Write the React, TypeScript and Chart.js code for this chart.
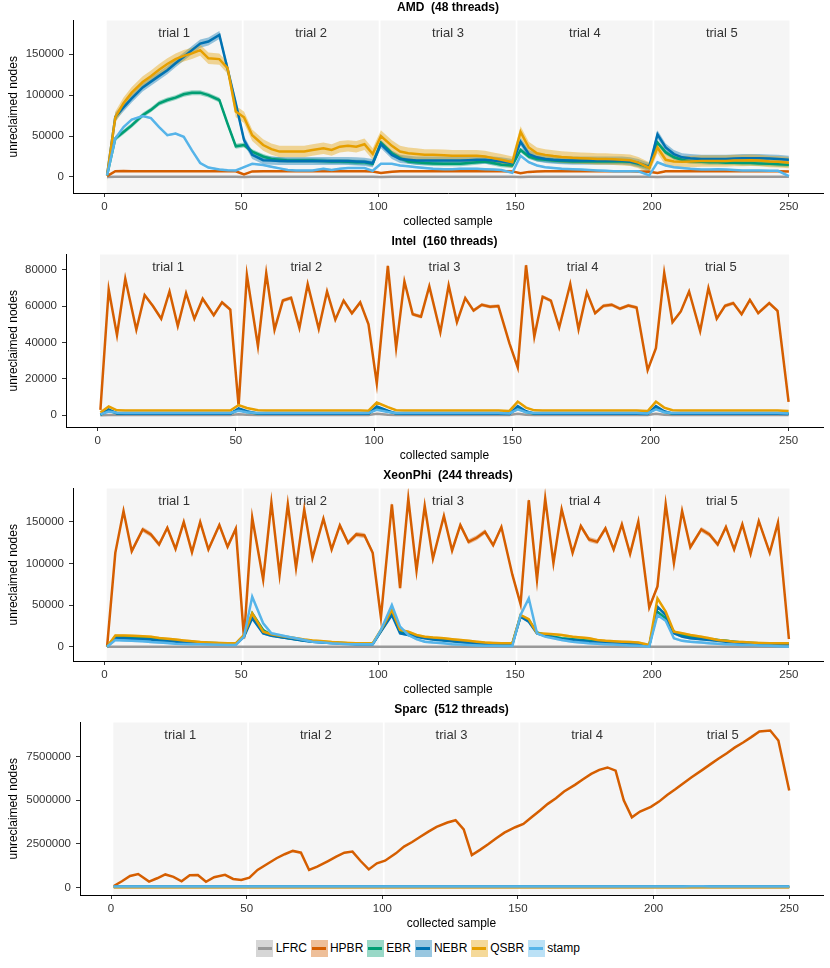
import React, { useEffect, useRef } from 'react'
import Chart from 'chart.js/auto'

const FONT = "'Liberation Sans', Arial, Helvetica, sans-serif"

// sample index of every collected point (16 per trial)
const samples = [
  1, 4, 7, 10, 14, 17, 20, 23, 26, 29, 32, 35, 38, 42, 45, 48,
  51, 54, 58, 61, 64, 67, 70, 73, 76, 80, 83, 86, 89, 92, 95, 98,
  101, 105, 108, 111, 114, 117, 120, 124, 127, 130, 133, 136, 139, 142, 145, 149,
  152, 155, 158, 161, 164, 167, 171, 174, 177, 180, 183, 186, 189, 192, 195, 199,
  202, 205, 208, 211, 214, 218, 221, 224, 227, 230, 233, 236, 239, 243, 246, 250,
]

const seriesNames = ['LFRC', 'HPBR', 'EBR', 'NEBR', 'QSBR', 'stamp']
const seriesColors = ['#999999', '#D55E00', '#009E73', '#0072B2', '#E69F00', '#56B4E9']
const trialLabels = ['trial 1', 'trial 2', 'trial 3', 'trial 4', 'trial 5']
const trialStarts = [0, 50, 100, 150, 200]
const xTicks = [0, 50, 100, 150, 200, 250]

// ---- AMD (48 threads)
const amdLFRC = [
  0, 200, 200, 200, 200, 200, 200, 200, 200, 200, 200, 200, 200, 200, 200, 200,
  100, 200, 200, 200, 200, 200, 200, 200, 200, 200, 200, 200, 200, 200, 200, 200,
  100, 200, 200, 200, 200, 200, 200, 200, 200, 200, 200, 200, 200, 200, 200, 200,
  100, 200, 200, 200, 200, 200, 200, 200, 200, 200, 200, 200, 200, 200, 200, 200,
  100, 200, 200, 200, 200, 200, 200, 200, 200, 200, 200, 200, 200, 200, 200, 200,
]
const amdHPBR = [
  1000, 7000, 7200, 7000, 7100, 7000, 7000, 6900, 7000, 7100, 7000, 7000, 7100, 7000, 7000, 7000,
  3000, 6800, 7000, 7000, 7100, 7000, 7000, 7000, 6900, 7000, 7100, 7000, 7000, 7100, 7000, 6800,
  5000, 6500, 7000, 7000, 7000, 6900, 7000, 7000, 7000, 7100, 7000, 7000, 7000, 6900, 7000, 6800,
  4500, 6200, 6800, 7000, 7000, 7000, 6900, 7000, 7000, 7000, 7000, 7000, 7000, 7000, 6800, 6500,
  5000, 7000, 7000, 7000, 7000, 6900, 7000, 7000, 7000, 7000, 7000, 7000, 7000, 7000, 6900, 6800,
]
const amdEBR = [
  2000, 47000, 55000, 63000, 75500, 82000, 90000, 94000, 97000, 101000, 103000, 103000, 100000, 94000, 65000, 37500,
  39000, 31000, 25000, 22000, 21000, 20000, 20000, 20000, 20000, 19500, 19000, 19000, 18500, 18000, 18000, 16000,
  42000, 29000, 23000, 19000, 18000, 17000, 16500, 16000, 16000, 16000, 17000, 18000, 19000, 17000, 15000, 14000,
  33000, 25000, 22000, 21000, 20000, 19500, 19000, 19000, 19000, 19000, 19000, 19000, 19000, 18500, 16000, 12000,
  42000, 30000, 24000, 21000, 19000, 18500, 18000, 18000, 17500, 17500, 17000, 17000, 16500, 16000, 15500, 15000,
]
const amdNEBR = [
  2000, 73500, 85000, 96000, 109500, 116500, 123500, 130500, 139000, 147000, 155000, 163000, 165500, 173500, 132000, 90000,
  45000, 27000, 20500, 20000, 19500, 19500, 19500, 19500, 19500, 19500, 19500, 19500, 19500, 19000, 18500, 17000,
  40000, 27000, 22000, 21000, 20000, 20000, 20000, 20000, 20000, 20000, 20500, 21000, 21000, 20000, 19000, 17000,
  43000, 28000, 24000, 22000, 21000, 20500, 20000, 20000, 20000, 20000, 20000, 20000, 20000, 19000, 17000, 12000,
  52000, 36000, 28000, 24000, 23000, 22000, 22000, 22000, 22000, 22500, 23000, 23000, 23000, 22500, 22000, 21000,
]
const amdQSBR = [
  2000, 73000, 90000, 103000, 116000, 123000, 131000, 138000, 144000, 148000, 151000, 155000, 145000, 144000, 133000, 80000,
  73000, 51000, 39000, 34000, 31000, 31000, 31000, 31000, 33000, 35000, 33000, 37000, 38000, 37000, 40000, 28000,
  50000, 38000, 31000, 29000, 28000, 27000, 27000, 26500, 26000, 26000, 26000, 26000, 25000, 23000, 21000, 18000,
  55000, 36000, 29000, 27000, 25500, 24500, 23500, 23000, 22500, 22000, 22000, 21500, 21000, 20500, 17500, 11000,
  36000, 21000, 19000, 18500, 19000, 19500, 19500, 19500, 19500, 20000, 20000, 20500, 20000, 19000, 18500, 17500,
]
const amdStamp = [
  2000, 47000, 61000, 70000, 74500, 72000, 61000, 51000, 53000, 49000, 32500, 17000, 11500, 9000, 8200, 8000,
  12000, 16000, 14500, 12500, 10500, 8500, 8000, 8000, 8000, 10000, 8500, 10000, 11000, 11000, 11000, 7500,
  16000, 16000, 14000, 13000, 12000, 11000, 10000, 9500, 9500, 10000, 10000, 10000, 9500, 9000, 8500, 5000,
  26000, 18000, 14000, 12000, 11000, 10000, 9500, 9000, 8500, 8000, 7500, 7000, 7000, 7000, 7000, 2000,
  18000, 14000, 12000, 11000, 10000, 9000, 9000, 9500, 9000, 8500, 8000, 8000, 8000, 7500, 7500, 1000,
]
const amdSpread = [800, 800, 3000, 5000, 7000, 1200]
const amdTicks = [0, 50000, 100000, 150000]

// ---- Intel (160 threads)
const intelLFRC = [
  0, 200, 200, 200, 200, 200, 200, 200, 200, 200, 200, 200, 200, 200, 200, 200,
  600, 300, 200, 200, 200, 200, 200, 200, 200, 200, 200, 200, 200, 200, 200, 200,
  800, 300, 200, 200, 200, 200, 200, 200, 200, 200, 200, 200, 200, 200, 200, 200,
  800, 300, 200, 200, 200, 200, 200, 200, 200, 200, 200, 200, 200, 200, 200, 200,
  800, 300, 200, 200, 200, 200, 200, 200, 200, 200, 200, 200, 200, 200, 200, 200,
]
const intelHPBR = [
  3000, 69000, 44000, 75000, 47000, 66000, 60000, 53000, 68000, 49000, 67000, 53000, 64000, 55000, 62000, 58000,
  5000, 77000, 38000, 78000, 47000, 63000, 64500, 48000, 72000, 47500, 68000, 52500, 63000, 56000, 62000, 50000,
  17500, 82000, 37000, 73500, 55500, 54200, 70800, 45600, 71300, 51100, 64400, 57500, 60700, 59600, 60000, 39500,
  26300, 82400, 43200, 65100, 62900, 48200, 72100, 47300, 67500, 56100, 60100, 60700, 58500, 60300, 59200, 24800,
  36800, 78200, 51100, 57000, 68000, 46300, 69900, 53000, 60100, 61600, 55500, 63400, 56100, 61600, 57400, 7300,
]
const intelEBR = [
  300, 2500, 1100, 1000, 1000, 1000, 1000, 1000, 1000, 1000, 1000, 1000, 1000, 1000, 1000, 1000,
  3000, 1800, 1000, 1000, 1000, 1000, 1000, 1000, 1000, 1000, 1000, 1000, 1000, 1000, 1000, 1000,
  3800, 2000, 1100, 1000, 1000, 1000, 1000, 1000, 1000, 1000, 1000, 1000, 1000, 1000, 1000, 900,
  4000, 1800, 1000, 1000, 1000, 1000, 1000, 1000, 1000, 1000, 1000, 1000, 1000, 1000, 1000, 900,
  4000, 1800, 1000, 1000, 1000, 1000, 1000, 1000, 1000, 1000, 1000, 1000, 1000, 1000, 1000, 900,
]
const intelNEBR = [
  300, 3200, 1000, 800, 800, 800, 800, 800, 800, 800, 800, 800, 800, 800, 800, 800,
  3800, 2200, 900, 800, 800, 800, 800, 800, 800, 800, 800, 800, 800, 800, 800, 800,
  4800, 2500, 900, 800, 800, 800, 800, 800, 800, 800, 800, 800, 800, 800, 800, 700,
  5000, 2200, 900, 800, 800, 800, 800, 800, 800, 800, 800, 800, 800, 800, 800, 700,
  5000, 2200, 900, 800, 800, 800, 800, 800, 800, 800, 800, 800, 800, 800, 800, 700,
]
const intelQSBR = [
  1500, 4800, 2700, 2600, 2600, 2600, 2600, 2600, 2600, 2600, 2600, 2600, 2600, 2600, 2600, 2600,
  5600, 4000, 2700, 2600, 2600, 2600, 2600, 2600, 2600, 2600, 2600, 2600, 2600, 2600, 2600, 2500,
  7000, 4500, 2800, 2600, 2600, 2600, 2600, 2600, 2600, 2600, 2600, 2600, 2600, 2600, 2600, 2400,
  7500, 4200, 2700, 2600, 2600, 2600, 2600, 2600, 2600, 2600, 2600, 2600, 2600, 2600, 2600, 2300,
  7500, 4200, 2800, 2600, 2600, 2600, 2600, 2600, 2600, 2600, 2600, 2600, 2600, 2600, 2600, 2400,
]
const intelStamp = [
  500, 2000, 1400, 1300, 1300, 1300, 1300, 1300, 1300, 1300, 1300, 1300, 1300, 1300, 1300, 1300,
  2500, 1600, 1300, 1300, 1300, 1300, 1300, 1300, 1300, 1300, 1300, 1300, 1300, 1300, 1300, 1200,
  3000, 1800, 1300, 1300, 1300, 1300, 1300, 1300, 1300, 1300, 1300, 1300, 1300, 1300, 1300, 1000,
  3200, 1700, 1300, 1300, 1300, 1300, 1300, 1300, 1300, 1300, 1300, 1300, 1300, 1300, 1300, 1000,
  3200, 1700, 1300, 1300, 1300, 1300, 1300, 1300, 1300, 1300, 1300, 1300, 1300, 1300, 1300, 1000,
]
const intelSpread = [300, 1000, 400, 400, 400, 400]
const intelTicks = [0, 20000, 40000, 60000, 80000]

// ---- XeonPhi (244 threads)
const xeonLFRC = [
  0, 0, 0, 0, 0, 0, 0, 0, 0, 0, 0, 0, 0, 0, 0, 0,
  0, 0, 0, 0, 0, 0, 0, 0, 0, 0, 0, 0, 0, 0, 0, 0,
  0, 0, 0, 0, 0, 0, 0, 0, 0, 0, 0, 0, 0, 0, 0, 0,
  0, 0, 0, 0, 0, 0, 0, 0, 0, 0, 0, 0, 0, 0, 0, 0,
  0, 0, 0, 0, 0, 0, 0, 0, 0, 0, 0, 0, 0, 0, 0, 0,
]
const xeonHPBR = [
  0, 112600, 162800, 114600, 140700, 134700, 122600, 142700, 117400, 149500, 113400, 149500, 116600, 145900, 119800, 141500,
  10000, 154800, 80400, 172900, 86400, 170900, 94500, 164800, 106500, 153600, 116600, 145500, 124600, 134700, 133500, 112600,
  35000, 170900, 70300, 177700, 91300, 168800, 105700, 156800, 115400, 145900, 125800, 130700, 137900, 121800, 143500, 86400,
  51100, 175700, 80400, 177700, 100500, 164800, 112600, 144700, 128600, 125800, 141900, 116600, 146700, 111400, 149900, 47000,
  72400, 170900, 100500, 162800, 119400, 140700, 134700, 122600, 143500, 116600, 146700, 111400, 150700, 112600, 148700, 9200,
]
const xeonEBR = [
  0, 12000, 12000, 11500, 11000, 10000, 9000, 8000, 7000, 6000, 5500, 5000, 4500, 4000, 3500, 3500,
  13000, 40000, 20000, 14000, 12000, 10500, 9000, 7500, 6500, 5500, 5000, 4500, 4000, 3500, 3500, 3500,
  19000, 40000, 18000, 15000, 13000, 11000, 9500, 8000, 7000, 6000, 5000, 4500, 4000, 3500, 3500, 3500,
  37000, 32000, 17000, 14000, 12000, 10000, 9000, 8000, 7000, 6000, 5500, 5000, 4500, 4000, 3500, 1500,
  42000, 34000, 18000, 14000, 12000, 10500, 9000, 8000, 7000, 6000, 5000, 4500, 4000, 3500, 3500, 3500,
]
const xeonNEBR = [
  0, 10000, 10000, 9500, 9000, 8500, 7500, 7000, 6000, 5500, 5000, 4500, 4000, 3500, 3000, 3000,
  12000, 34000, 16000, 13000, 11500, 10000, 8500, 7000, 6000, 5000, 4500, 4000, 3500, 3000, 3000, 3000,
  18000, 38000, 16000, 14000, 12000, 10000, 8500, 7500, 6500, 5500, 4500, 4000, 3500, 3000, 3000, 3000,
  36000, 30000, 16000, 13000, 11000, 9000, 8000, 7000, 6000, 5500, 5000, 4500, 4000, 3500, 3000, 1000,
  48000, 38000, 16000, 12000, 10000, 9000, 8000, 7000, 6000, 5000, 4500, 4000, 3500, 3000, 3000, 3000,
]
const xeonQSBR = [
  0, 13500, 13500, 13000, 12500, 12000, 10500, 9500, 8500, 7500, 6500, 5500, 5000, 4500, 4000, 4000,
  14000, 40000, 18000, 15000, 13000, 11500, 10000, 8500, 7500, 6500, 5500, 5000, 4500, 4000, 4000, 4000,
  20000, 44000, 20000, 18000, 14000, 12000, 11000, 10000, 9000, 8000, 7000, 6000, 5000, 4500, 4000, 4000,
  38000, 33000, 16000, 15500, 15000, 14000, 12000, 11000, 10000, 8000, 7000, 6500, 6000, 5500, 5000, 2000,
  58000, 42000, 18000, 16000, 14000, 12000, 10000, 8000, 7000, 6000, 5500, 5000, 4500, 4000, 4000, 4000,
]
const xeonStamp = [
  0, 8000, 7500, 7200, 6500, 5500, 5000, 4500, 3500, 3200, 3000, 2800, 2500, 2200, 2000, 2000,
  12000, 60000, 28000, 16000, 14000, 12000, 10000, 8000, 6000, 5000, 4000, 3500, 3000, 3000, 2800, 2800,
  20000, 50000, 24000, 14000, 9000, 6000, 5000, 4000, 3000, 2500, 2000, 1500, 1200, 1000, 800, 800,
  38000, 58000, 16000, 12000, 10000, 8000, 6000, 5000, 4000, 3500, 3000, 2500, 2000, 1500, 1000, 0,
  38000, 31000, 10000, 7000, 6000, 5000, 4000, 3500, 3000, 2500, 2000, 2000, 1500, 1000, 500, 0,
]
const xeonSpread = [800, 3000, 1500, 1500, 1500, 1500]
const xeonTicks = [0, 50000, 100000, 150000]

// ---- Sparc (512 threads)
const sparcLFRC = [
  0, 0, 0, 0, 0, 0, 0, 0, 0, 0, 0, 0, 0, 0, 0, 0,
  0, 0, 0, 0, 0, 0, 0, 0, 0, 0, 0, 0, 0, 0, 0, 0,
  0, 0, 0, 0, 0, 0, 0, 0, 0, 0, 0, 0, 0, 0, 0, 0,
  0, 0, 0, 0, 0, 0, 0, 0, 0, 0, 0, 0, 0, 0, 0, 0,
  0, 0, 0, 0, 0, 0, 0, 0, 0, 0, 0, 0, 0, 0, 0, 0,
]
const sparcHPBR = [
  77000, 350000, 650000, 760000, 330000, 520000, 740000, 600000, 350000, 690000, 710000, 320000, 580000, 720000, 480000, 420000,
  560000, 1000000, 1380000, 1670000, 1900000, 2090000, 1990000, 1000000, 1190000, 1510000, 1760000, 1990000, 2050000, 1510000, 1030000, 1380000,
  1530000, 1950000, 2340000, 2600000, 2900000, 3200000, 3470000, 3720000, 3850000, 3330000, 1850000, 2150000, 2470000, 2820000, 3140000, 3450000,
  3640000, 4020000, 4400000, 4790000, 5110000, 5500000, 5880000, 6200000, 6510000, 6740000, 6880000, 6700000, 5000000, 4020000, 4350000, 4620000,
  4920000, 5300000, 5630000, 5980000, 6320000, 6740000, 7070000, 7390000, 7700000, 8030000, 8310000, 8620000, 8950000, 9000000, 8430000, 5560000,
]
const sparcEBR = [
  30000, 30000, 30000, 30000, 30000, 30000, 30000, 30000, 30000, 30000, 30000, 30000, 30000, 30000, 30000, 30000,
  30000, 30000, 30000, 30000, 30000, 30000, 30000, 30000, 30000, 30000, 30000, 30000, 30000, 30000, 30000, 30000,
  30000, 30000, 30000, 30000, 30000, 30000, 30000, 30000, 30000, 30000, 30000, 30000, 30000, 30000, 30000, 30000,
  30000, 30000, 30000, 30000, 30000, 30000, 30000, 30000, 30000, 30000, 30000, 30000, 30000, 30000, 30000, 30000,
  30000, 30000, 30000, 30000, 30000, 30000, 30000, 30000, 30000, 30000, 30000, 30000, 30000, 30000, 30000, 30000,
]
const sparcNEBR = [
  40000, 40000, 40000, 40000, 40000, 40000, 40000, 40000, 40000, 40000, 40000, 40000, 40000, 40000, 40000, 40000,
  40000, 40000, 40000, 40000, 40000, 40000, 40000, 40000, 40000, 40000, 40000, 40000, 40000, 40000, 40000, 40000,
  40000, 40000, 40000, 40000, 40000, 40000, 40000, 40000, 40000, 40000, 40000, 40000, 40000, 40000, 40000, 40000,
  40000, 40000, 40000, 40000, 40000, 40000, 40000, 40000, 40000, 40000, 40000, 40000, 40000, 40000, 40000, 40000,
  40000, 40000, 40000, 40000, 40000, 40000, 40000, 40000, 40000, 40000, 40000, 40000, 40000, 40000, 40000, 40000,
]
const sparcQSBR = [
  5000, 5000, 5000, 5000, 5000, 5000, 5000, 5000, 5000, 5000, 5000, 5000, 5000, 5000, 5000, 5000,
  5000, 5000, 5000, 5000, 5000, 5000, 5000, 5000, 5000, 5000, 5000, 5000, 5000, 5000, 5000, 5000,
  5000, 5000, 5000, 5000, 5000, 5000, 5000, 5000, 5000, 5000, 5000, 5000, 5000, 5000, 5000, 5000,
  5000, 5000, 5000, 5000, 5000, 5000, 5000, 5000, 5000, 5000, 5000, 5000, 5000, 5000, 5000, 5000,
  5000, 5000, 5000, 5000, 5000, 5000, 5000, 5000, 5000, 5000, 5000, 5000, 5000, 5000, 5000, 5000,
]
const sparcStamp = [
  45000, 45000, 45000, 45000, 45000, 45000, 45000, 45000, 45000, 45000, 45000, 45000, 45000, 45000, 45000, 45000,
  45000, 45000, 45000, 45000, 45000, 45000, 45000, 45000, 45000, 45000, 45000, 45000, 45000, 45000, 45000, 45000,
  45000, 45000, 45000, 45000, 45000, 45000, 45000, 45000, 45000, 45000, 45000, 45000, 45000, 45000, 45000, 45000,
  45000, 45000, 45000, 45000, 45000, 45000, 45000, 45000, 45000, 45000, 45000, 45000, 45000, 45000, 45000, 45000,
  45000, 45000, 45000, 45000, 60000, 60000, 45000, 45000, 45000, 45000, 45000, 45000, 45000, 45000, 45000, 45000,
]
const sparcSpread = [10000, 20000, 20000, 50000, 15000, 60000]
const sparcTicks = [0, 2500000, 5000000, 7500000]

interface PanelDef {
  title: string
  series: number[][]
  spread: number[]
  yTicks: number[]
  yMin: number
  yMax: number
  axisWidth: number
  top: number
}

const panels: PanelDef[] = [
  { title: 'AMD  (48 threads)', series: [amdLFRC, amdHPBR, amdEBR, amdNEBR, amdQSBR, amdStamp], spread: amdSpread, yTicks: amdTicks, yMin: -19600, yMax: 191200, axisWidth: 73, top: -1 },
  { title: 'Intel  (160 threads)', series: [intelLFRC, intelHPBR, intelEBR, intelNEBR, intelQSBR, intelStamp], spread: intelSpread, yTicks: intelTicks, yMin: -6450, yMax: 88300, axisWidth: 66, top: 233 },
  { title: 'XeonPhi  (244 threads)', series: [xeonLFRC, xeonHPBR, xeonEBR, xeonNEBR, xeonQSBR, xeonStamp], spread: xeonSpread, yTicks: xeonTicks, yMin: -17200, yMax: 189800, axisWidth: 73, top: 467 },
  { title: 'Sparc  (512 threads)', series: [sparcLFRC, sparcHPBR, sparcEBR, sparcNEBR, sparcQSBR, sparcStamp], spread: sparcSpread, yTicks: sparcTicks, yMin: -440000, yMax: 9460000, axisWidth: 80, top: 701 },
]

const fade = (hex: string, a: number) => {
  const n = parseInt(hex.slice(1), 16)
  return `rgba(${(n >> 16) & 255}, ${(n >> 8) & 255}, ${n & 255}, ${a})`
}

// grey trial bands with their labels, behind everything
const trialBands = {
  id: 'trialBands',
  beforeDraw(chart: Chart) {
    const { ctx, chartArea } = chart
    const xs = chart.scales.x
    ctx.save()
    trialStarts.forEach((start, t) => {
      const x0 = xs.getPixelForValue(start + 0.85)
      const x1 = xs.getPixelForValue(start + 50.2)
      ctx.fillStyle = '#F5F5F5'
      ctx.fillRect(x0, chartArea.top, x1 - x0, chartArea.bottom - chartArea.top)
      ctx.fillStyle = '#333333'
      ctx.font = `13px ${FONT}`
      ctx.textAlign = 'center'
      ctx.textBaseline = 'middle'
      ctx.fillText(trialLabels[t], xs.getPixelForValue(start + 25.5), chartArea.top + 12.5)
    })
    ctx.restore()
  },
}

const Panel = ({ title, series, spread, yTicks, yMin, yMax, axisWidth, top }: PanelDef) => {
  const chartRef = useRef<HTMLCanvasElement>(null)
  const chartInstance = useRef<Chart>()

  useEffect(() => {
    if (!chartRef.current) return
    const datasets: any[] = []
    // ribbons first (drawn underneath), then the mean lines
    series.forEach((values, s) => {
      const lowIdx = datasets.length
      datasets.push({
        label: seriesNames[s] + ' low',
        data: values.map((v, i) => ({ x: samples[i], y: v - spread[s] })),
        borderWidth: 0,
        pointRadius: 0,
        fill: false,
        order: 20 - s,
      })
      datasets.push({
        label: seriesNames[s] + ' high',
        data: values.map((v, i) => ({ x: samples[i], y: v + spread[s] })),
        borderWidth: 0,
        pointRadius: 0,
        fill: lowIdx,
        backgroundColor: fade(seriesColors[s], 0.4),
        order: 20 - s,
      })
    })
    series.forEach((values, s) => {
      datasets.push({
        label: seriesNames[s],
        data: values.map((v, i) => ({ x: samples[i], y: v })),
        borderColor: seriesColors[s],
        borderWidth: 2.5,
        pointRadius: 0,
        tension: 0,
        fill: false,
        order: 5 - s,
      })
    })

    const tickFont = { family: FONT, size: 11.5 }
    const titleFont = { family: FONT, size: 12 }

    chartInstance.current = new Chart(chartRef.current, {
      type: 'line',
      data: { datasets },
      plugins: [trialBands],
      options: {
        animation: false,
        responsive: false,
        layout: { padding: { top: 0, right: 7, bottom: 0, left: 0 } },
        plugins: {
          legend: { display: false },
          tooltip: { enabled: false },
          title: {
            display: true,
            text: title,
            fullSize: false,
            color: '#000',
            font: { family: FONT, size: 12, weight: 'bold' },
            padding: { top: 1, bottom: 6.1 },
          },
        },
        scales: {
          x: {
            type: 'linear',
            min: -11.45,
            max: 262.45,
            afterBuildTicks: (sc: any) => {
              sc.ticks = xTicks.map((v) => ({ value: v }))
            },
            afterFit: (sc: any) => {
              sc.height = 40
            },
            grid: { drawOnChartArea: false, drawTicks: true, tickLength: 4, color: '#333333' },
            border: { color: '#000', width: 1 },
            ticks: { font: tickFont, color: '#333333', padding: 3, maxRotation: 0, callback: (v: any) => String(v) },
            title: { display: true, text: 'collected sample', color: '#000', font: titleFont, padding: { top: 0, bottom: 4 } },
          },
          y: {
            type: 'linear',
            min: yMin,
            max: yMax,
            afterBuildTicks: (sc: any) => {
              sc.ticks = yTicks.map((v) => ({ value: v }))
            },
            afterFit: (sc: any) => {
              sc.width = axisWidth
            },
            grid: { drawOnChartArea: false, drawTicks: true, tickLength: 4, color: '#333333' },
            border: { color: '#000', width: 1 },
            ticks: { font: tickFont, color: '#333333', padding: 5, callback: (v: any) => String(v) },
            title: { display: true, text: 'unreclaimed nodes', color: '#000', font: titleFont, padding: { top: 6, bottom: 0 } },
          },
        },
      },
    } as any)

    return () => {
      if (chartInstance.current) {
        chartInstance.current.destroy()
      }
    }
  }, [title, series, spread, yTicks, yMin, yMax, axisWidth])

  return (
    <canvas
      ref={chartRef}
      width={830}
      height={234}
      style={{ position: 'absolute', left: 0, top, width: 830, height: 234 }}
    />
  )
}

const Legend = () => (
  <div
    style={{
      position: 'absolute',
      left: 10,
      top: 940,
      width: 820,
      display: 'flex',
      justifyContent: 'center',
      alignItems: 'center',
      fontFamily: FONT,
      fontSize: 12,
      color: '#000',
    }}
  >
    {seriesNames.map((name, s) => (
      <div key={name} style={{ display: 'flex', alignItems: 'center', marginRight: 3.7 }}>
        <div
          style={{
            width: 17,
            height: 17,
            background: fade(seriesColors[s], 0.4),
            position: 'relative',
            marginRight: 2.3,
          }}
        >
          <div
            style={{
              position: 'absolute',
              left: 1.5,
              right: 1.5,
              top: 7.3,
              height: 2.4,
              background: seriesColors[s],
            }}
          />
        </div>
        <span style={{ lineHeight: '17px' }}>{name}</span>
      </div>
    ))}
  </div>
)

export default function App() {
  return (
    <div style={{ position: 'absolute', left: 0, top: 0, width: 830, height: 968, background: '#fff', overflow: 'hidden' }}>
      {panels.map((p) => (
        <Panel key={p.title} {...p} />
      ))}
      <Legend />
    </div>
  )
}
